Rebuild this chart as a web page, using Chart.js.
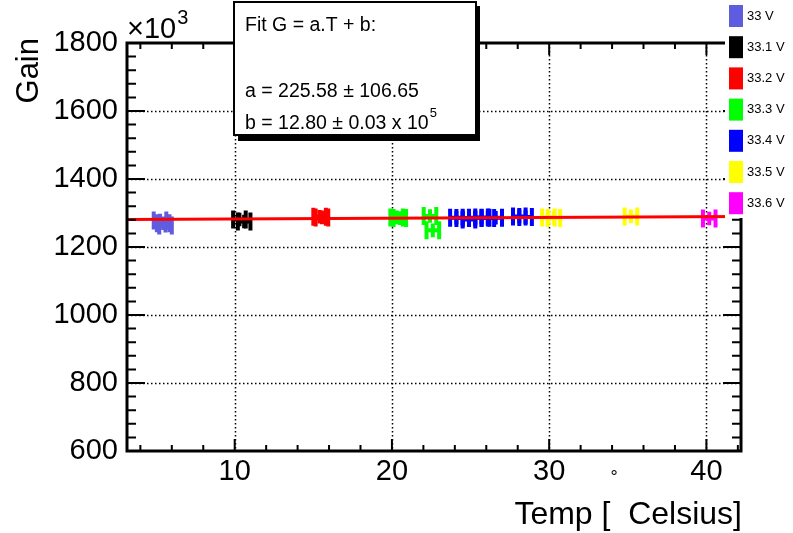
<!DOCTYPE html>
<html>
<head>
<meta charset="utf-8">
<script src="https://cdn.jsdelivr.net/npm/chart.js@4.4.0/dist/chart.umd.min.js"></script>
<style>
  html, body { margin: 0; padding: 0; background: #fff; }
  #wrap { width: 793px; height: 533px; }
</style>
</head>
<body>
<div id="wrap"><canvas id="gainChart" width="793" height="533"></canvas></div>
<script>
// bias voltages and their colours
const voltLabels = ['33 V', '33.1 V', '33.2 V', '33.3 V', '33.4 V', '33.5 V', '33.6 V'];
const voltColors = ['#5f5ce0', '#000000', '#ff0000', '#00ff00', '#0000ff', '#ffff00', '#ff00ff'];

// temperature [C] of each measurement, one list per voltage
const tempVals = [
    [5.25, 5.45, 5.6],
    [10.3, 10.6],
    [15.4, 15.55],
    [20.3, 20.5, 22.42, 22.6],
    [24.1, 24.5, 24.9, 25.3, 25.7, 26.1, 26.6, 28.1, 28.5],
    [29.95, 30.3, 35.2],
    [40.18]
];
// gain (x10^3), same layout as tempVals
const gainVals = [
    [1278, 1270, 1263],
    [1281, 1275],
    [1289, 1287],
    [1287, 1285, 1291, 1249],
    [1286, 1285, 1281, 1286, 1287, 1285, 1286, 1290, 1288],
    [1287, 1285, 1290],
    [1284]
];
const tempErr = 0.4;
const gainErr = 20;

// fitted line G = a.T + b, end points
const fitT = [3.15, 42.2];
const fitG = [1281, 1289.5];

const xTicks = [10, 20, 30, 40];
const yTicks = [600, 800, 1000, 1200, 1400, 1600, 1800];

const FONT = '"Liberation Sans", Arial, sans-serif';
Chart.defaults.font.family = FONT;

// ROOT style error bars: x bar with tall end caps, plain y bar
const errorBars = {
    id: 'errorBars',
    afterDatasetDraw(chart, args) {
        const ds = chart.data.datasets[args.index];
        if (!ds.errX) return;
        const { ctx, chartArea: a } = chart;
        const xs = chart.scales.x, ys = chart.scales.y;
        ctx.save();
        ctx.beginPath();
        ctx.rect(a.left, a.top, a.right - a.left, a.bottom - a.top);
        ctx.clip();
        ctx.strokeStyle = ds.borderColor;
        ctx.lineWidth = 4;
        const cap = 9;
        ds.data.forEach(p => {
            const cx = xs.getPixelForValue(p.x), cy = ys.getPixelForValue(p.y);
            const x0 = xs.getPixelForValue(p.x - ds.errX), x1 = xs.getPixelForValue(p.x + ds.errX);
            const y0 = ys.getPixelForValue(p.y + ds.errY), y1 = ys.getPixelForValue(p.y - ds.errY);
            ctx.beginPath();
            ctx.moveTo(x0, cy); ctx.lineTo(x1, cy);
            ctx.moveTo(x0, cy - cap); ctx.lineTo(x0, cy + cap);
            ctx.moveTo(x1, cy - cap); ctx.lineTo(x1, cy + cap);
            ctx.moveTo(cx, y0); ctx.lineTo(cx, y1);
            ctx.stroke();
        });
        ctx.restore();
    }
};

const rootFrame = {
    id: 'rootFrame',
    beforeDatasetsDraw(chart) {
        const { ctx, chartArea: a } = chart;
        const xs = chart.scales.x, ys = chart.scales.y;
        ctx.save();
        ctx.strokeStyle = '#000';
        ctx.lineWidth = 1.5;
        ctx.setLineDash([1.5, 2.5]);
        xTicks.forEach(v => {
            const px = Math.round(xs.getPixelForValue(v)) + 0.5;
            ctx.beginPath(); ctx.moveTo(px, a.top); ctx.lineTo(px, a.bottom); ctx.stroke();
        });
        yTicks.forEach(v => {
            if (v === ys.min || v === ys.max) return;
            const py = Math.round(ys.getPixelForValue(v)) + 0.5;
            ctx.beginPath(); ctx.moveTo(a.left, py); ctx.lineTo(a.right, py); ctx.stroke();
        });
        ctx.restore();
    },
    afterDraw(chart) {
        const { ctx, chartArea: a } = chart;
        const xs = chart.scales.x, ys = chart.scales.y;
        ctx.save();
        ctx.strokeStyle = '#000';
        ctx.lineWidth = 2;
        ctx.beginPath();
        // x ticks (major every 10, minor every 2) on bottom and top
        for (let v = Math.ceil(xs.min / 2) * 2; v <= xs.max; v += 2) {
            const px = xs.getPixelForValue(v);
            const len = v % 10 === 0 ? 12 : 6;
            ctx.moveTo(px, a.bottom); ctx.lineTo(px, a.bottom - len);
            ctx.moveTo(px, a.top); ctx.lineTo(px, a.top + len);
        }
        // y ticks (major every 200, minor every 40) on left and right
        for (let v = ys.min; v <= ys.max; v += 40) {
            const py = ys.getPixelForValue(v);
            const len = v % 200 === 0 ? 18 : 9;
            ctx.moveTo(a.left, py); ctx.lineTo(a.left + len, py);
            ctx.moveTo(a.right, py); ctx.lineTo(a.right - len, py);
        }
        ctx.stroke();
        ctx.lineWidth = 3;
        ctx.strokeRect(a.left, a.top, a.right - a.left, a.bottom - a.top);

        // axis titles
        ctx.fillStyle = '#000';
        ctx.font = '29px ' + FONT;
        ctx.textBaseline = 'alphabetic';
        ctx.textAlign = 'left';
        ctx.fillText('\u00d710', 127, 38);
        const w10 = ctx.measureText('\u00d710').width;
        ctx.font = '20px ' + FONT;
        ctx.fillText('3', 127 + w10 + 1, 24);

        ctx.font = '31px ' + FONT;
        ctx.save();
        ctx.translate(38, 38);
        ctx.rotate(-Math.PI / 2);
        ctx.textAlign = 'right';
        ctx.fillText('Gain', 0, 0);
        ctx.restore();

        ctx.font = '32px ' + FONT;
        ctx.textAlign = 'right';
        ctx.fillText('Temp [  Celsius]', 742, 524);
        ctx.font = '18px ' + FONT;
        ctx.textAlign = 'center';
        ctx.fillText('\u00b0', 614, 483);

        // legend
        ctx.fillStyle = '#fff';
        ctx.fillRect(725, 0, 68, 218);
        ctx.font = '13px ' + FONT;
        ctx.textAlign = 'left';
        ctx.textBaseline = 'middle';
        voltLabels.forEach((lab, i) => {
            const cy = 16 + i * 31.2;
            ctx.fillStyle = voltColors[i];
            ctx.fillRect(729, cy - 11, 14, 22);
            ctx.fillStyle = '#000';
            ctx.fillText(lab, 747, cy);
        });

        // fit box with shadow
        ctx.fillStyle = '#000';
        ctx.fillRect(238, 6, 242, 135);
        ctx.fillStyle = '#fff';
        ctx.fillRect(234, 2, 242, 133);
        ctx.lineWidth = 2;
        ctx.strokeRect(234, 2, 242, 133);
        ctx.fillStyle = '#000';
        ctx.font = '19.5px ' + FONT;
        ctx.textBaseline = 'alphabetic';
        ctx.fillText('Fit G = a.T + b:', 245, 31);
        ctx.fillText('a = 225.58 \u00b1 106.65', 245, 97);
        const bTxt = 'b = 12.80 \u00b1 0.03 x 10';
        ctx.fillText(bTxt, 245, 129);
        const wb = ctx.measureText(bTxt).width;
        ctx.font = '13px ' + FONT;
        ctx.fillText('5', 245 + wb + 1, 117);
        ctx.restore();
    }
};

const datasets = [{
    type: 'line',
    label: 'fit',
    data: fitT.map((t, i) => ({ x: t, y: fitG[i] })),
    borderColor: '#ff0000',
    borderWidth: 3,
    pointRadius: 0,
    fill: false,
    order: 0
}];
voltLabels.forEach((lab, i) => {
    datasets.push({
        type: 'scatter',
        label: lab,
        data: tempVals[i].map((t, j) => ({ x: t, y: gainVals[i][j] })),
        borderColor: voltColors[i],
        backgroundColor: voltColors[i],
        pointRadius: 1.5,
        errX: tempErr,
        errY: gainErr,
        order: 1
    });
});

const ctx = document.getElementById('gainChart').getContext('2d');
new Chart(ctx, {
    type: 'scatter',
    data: { datasets: datasets },
    plugins: [errorBars, rootFrame],
    options: {
        responsive: false,
        animation: false,
        devicePixelRatio: 1,
        layout: { padding: { top: 43, right: 52, left: 0, bottom: 0 } },
        plugins: { legend: { display: false }, tooltip: { enabled: false } },
        scales: {
            x: {
                type: 'linear', min: 3.15, max: 42.2,
                grid: { display: false, drawTicks: false },
                border: { display: false },
                afterBuildTicks: s => { s.ticks = xTicks.map(v => ({ value: v })); },
                afterFit: s => { s.height = 82; },
                ticks: { color: '#000', font: { size: 29 }, padding: 4, maxRotation: 0, autoSkip: false,
                         callback: v => String(v) }
            },
            y: {
                type: 'linear', min: 600, max: 1800,
                grid: { display: false, drawTicks: false },
                border: { display: false },
                afterBuildTicks: s => { s.ticks = yTicks.map(v => ({ value: v })); },
                afterFit: s => { s.width = 127; },
                ticks: { color: '#000', font: { size: 29 }, padding: 9, autoSkip: false,
                         callback: v => String(v) }
            }
        }
    }
});
</script>
</body>
</html>
